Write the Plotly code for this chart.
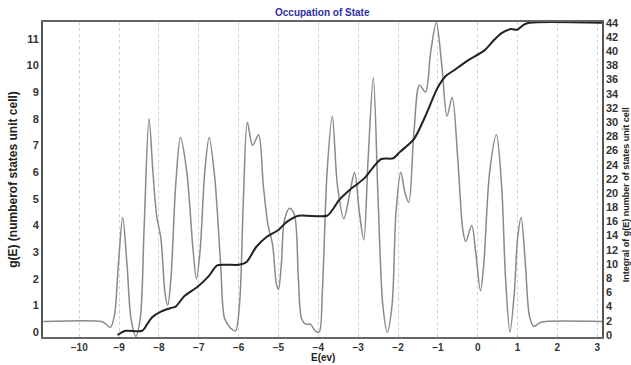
import plotly.graph_objects as go

# g(E) density of states (key points)
dos_e = [-10.9, -9.45, -9.35, -9.22, -9.12, -9.02, -8.91, -8.8, -8.7, -8.58, -8.47, -8.37, -8.25,
         -8.15, -8.06, -7.95, -7.85, -7.78, -7.7, -7.58, -7.46, -7.3, -7.15, -7.06, -6.97, -6.85,
         -6.74, -6.6, -6.45, -6.35, -6.2, -6.08, -5.98, -5.88, -5.78, -5.65, -5.5, -5.38, -5.26,
         -5.15, -5.05, -5.0, -4.93, -4.85, -4.72, -4.6, -4.5, -4.42, -4.32, -4.2, -4.08, -3.98,
         -3.9, -3.78, -3.65, -3.52, -3.36, -3.2, -3.09, -2.97, -2.86, -2.75, -2.62, -2.5, -2.38,
         -2.27, -2.15, -2.05, -1.93, -1.82, -1.73, -1.6, -1.46, -1.31, -1.18, -1.04, -0.9, -0.77,
         -0.64, -0.5, -0.37, -0.3, -0.15, -0.05, 0.07, 0.15, 0.3, 0.47, 0.6, 0.7, 0.81, 0.92, 1.0,
         1.09, 1.2, 1.3, 1.41, 1.55, 1.7, 3.12]
dos_g = [0.4, 0.4, 0.33, 0.18, 0.6, 2.5, 4.3, 2.5, 0.5, -0.15, 0.5, 4.0, 8.0,
         6.0, 4.4, 3.5, 1.5, 1.0, 2.0, 5.5, 7.3, 6.0, 3.2, 2.0, 3.0, 6.0,
         7.3, 5.8, 2.5, 0.5, 0.15, 0.05, 1.0, 5.0, 7.86, 7.0, 7.4, 5.5, 4.0,
         3.3, 1.8, 1.6, 2.5, 4.2, 4.65, 4.4, 2.0, 0.5, 0.3, 0.3, 0.05, 0.0,
         1.5, 6.0, 8.1, 5.5, 4.25, 5.3, 6.0, 4.5, 3.46, 6.5, 9.55, 5.0, 1.0,
         0.0, 1.0, 4.5, 6.0, 5.2, 4.87, 7.5, 9.26, 9.0, 10.5, 11.6, 10.0, 8.1,
         8.8, 6.5, 3.8, 3.4, 4.0, 3.0, 1.55, 2.5, 6.0, 7.4, 5.5, 2.0, 0.0, 1.5, 3.5,
         4.3, 2.5, 0.6, 0.22, 0.35, 0.4, 0.4]

# Integral of g(E)
int_e = [-9.04, -8.95, -8.84, -8.42, -8.3, -8.17, -7.95, -7.7, -7.58, -7.36, -7.03, -6.75, -6.54,
         -6.3, -6.0, -5.8, -5.56, -5.3, -5.0, -4.8, -4.5, -3.78, -3.6, -3.48, -3.2, -2.84, -2.6,
         -2.42, -2.12, -1.95, -1.6, -1.3, -1.01, -0.8, -0.62, -0.27, 0.17, 0.4, 0.59, 0.84, 0.99,
         1.15, 1.3, 3.12]
int_n = [0.0, 0.3, 0.6, 0.6, 1.5, 2.5, 3.3, 3.8, 4.0, 5.5, 6.8, 8.3, 9.8,
         9.9, 9.9, 10.3, 12.4, 13.8, 14.8, 15.9, 16.8, 16.8, 18.0, 19.0, 20.5, 22.1, 23.8,
         24.8, 24.9, 25.8, 27.6, 31.0, 34.8, 36.5, 37.2, 38.6, 40.1, 41.5, 42.5, 43.1, 43.0,
         43.7, 44.0, 44.0]

FONT = "Arial, Liberation Sans, sans-serif"

fig = go.Figure()
fig.add_trace(go.Scatter(x=dos_e, y=dos_g, mode="lines",
                         line=dict(color="#8a8a8a", width=1.5, shape="spline", smoothing=0.9),
                         showlegend=False))
fig.add_trace(go.Scatter(x=int_e, y=int_n, mode="lines", yaxis="y2",
                         line=dict(color="#222222", width=2, shape="spline", smoothing=0.7),
                         showlegend=False))

fig.update_layout(
    width=631, height=365,
    margin=dict(l=36, r=28, t=22, b=23),
    paper_bgcolor="white", plot_bgcolor="white",
    font=dict(family=FONT, color="#222"),
    xaxis=dict(range=[-10.91, 3.12], dtick=1, tick0=0,
               showgrid=True, griddash="dot", gridcolor="#cfcfcf", gridwidth=1,
               zeroline=False, showline=True, linecolor="#666", linewidth=1.5, mirror=True,
               ticks="", tickfont=dict(size=10, weight="bold", color="#333")),
    yaxis=dict(range=[-0.18, 11.63], dtick=1, tick0=0, showgrid=False, zeroline=False,
               showline=True, linecolor="#555", linewidth=2,
               ticks="", tickfont=dict(size=11, weight="bold", color="#333"),
               title=dict(text="g(E) (numberof states unit cell)", standoff=6,
                          font=dict(size=12, weight="bold", color="#222"))),
    yaxis2=dict(range=[-0.28, 44.1], dtick=2, tick0=0, overlaying="y", side="right",
                showgrid=False, zeroline=False, showline=True, linecolor="#555", linewidth=1.5,
                ticks="", tickfont=dict(size=11, weight="bold", color="#333")),
)

fig.add_annotation(text="Occupation of State", x=0.5, y=1, xref="paper", yref="paper",
                   yanchor="bottom", yshift=2, showarrow=False,
                   font=dict(size=10, weight="bold", color="#2e2ea8", family=FONT))
fig.add_annotation(text="E(ev)", x=0.5, y=0, xref="paper", yref="paper",
                   yanchor="top", yshift=-13, showarrow=False,
                   font=dict(size=10, weight="bold", color="#222", family=FONT))
fig.add_annotation(text="Integral of g(E) number of states unit cell", x=1, y=0.45,
                   xref="paper", yref="paper", xanchor="left", xshift=17,
                   textangle=-90, showarrow=False,
                   font=dict(size=9, weight="bold", color="#222", family=FONT))

fig.write_html("out.html")
